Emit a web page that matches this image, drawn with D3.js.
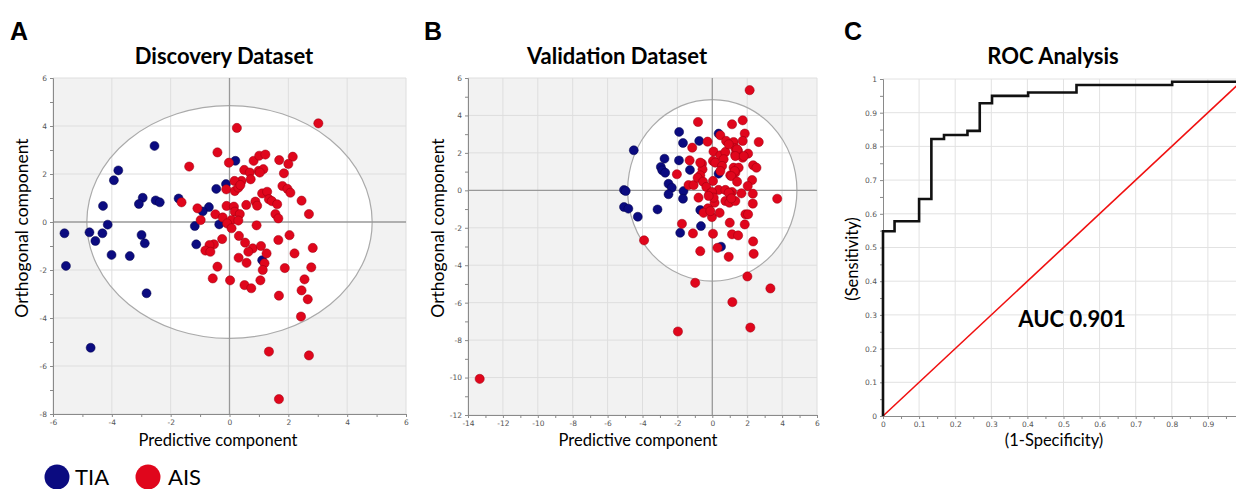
<!DOCTYPE html>
<html>
<head>
<meta charset="utf-8">
<script src="https://cdn.jsdelivr.net/npm/d3@7"></script>
<style>
  body { margin: 0; background: #fff; }
  svg { display: block; font-family: Lato, "Open Sans", sans-serif; }
</style>
</head>
<body>
<svg id="fig" width="1236" height="489"></svg>
<script>
// Discovery dataset scores [predictive, orthogonal]
const discoveryTIA = [
  [-2.55, 3.17], [-3.78, 2.15], [-3.93, 1.74], [-2.95, 1.01], [-3.08, 0.75], [-2.51, 0.90],
  [-2.37, 0.82], [-4.30, 0.67], [-1.73, 0.98], [-4.14, -0.11], [-5.61, -0.47], [-4.76, -0.43],
  [-4.32, -0.47], [-4.56, -0.79], [-2.99, -0.54], [-2.88, -0.89], [-4.01, -1.37], [-3.39, -1.42],
  [-5.56, -1.83], [-2.82, -2.97], [-4.72, -5.24], [0.20, 2.55], [-0.45, 1.38], [-0.12, 1.58],
  [-0.70, 0.62], [-0.91, 0.44], [-1.18, -0.17], [-0.35, -0.10], [-1.13, -0.93], [1.11, -1.59]
]
const discoveryAIS = [
  [0.25, 3.92], [-0.41, 2.90], [-1.37, 2.31], [-0.02, 2.47], [0.82, 2.55], [0.50, 2.17],
  [0.69, 2.06], [0.72, 1.78], [0.41, 1.71], [0.17, 1.71], [-0.11, 1.36], [0.18, 1.29],
  [0.30, 1.43], [0.37, 1.54], [-1.63, 0.82], [-1.09, 0.57], [-0.10, 0.67], [0.15, 0.64],
  [0.18, 0.43], [0.57, 0.71], [0.35, 0.33], [-0.98, 0.08], [-0.48, 0.32], [-0.23, 0.19],
  [0.07, 0.08], [0.30, 0.06], [-0.08, -0.06], [0.07, -0.26], [0.32, -0.58], [-0.25, -0.71],
  [-0.53, -0.93], [-0.68, -0.96], [-0.82, -1.19], [-0.65, -1.24], [0.53, -0.86], [0.79, -1.10],
  [0.64, -1.24], [0.31, -1.49], [0.58, -1.70], [-0.41, -1.86], [-0.57, -2.35], [0.02, -2.43],
  [0.51, -2.63], [0.74, -2.76], [0.92, -0.14], [0.99, 2.13],
  [3.02, 4.11], [1.01, 2.76], [1.22, 2.81], [1.69, 2.58], [2.15, 2.72], [2.00, 2.42],
  [1.85, 2.03], [1.15, 2.20], [1.03, 2.06], [1.80, 1.50], [1.97, 1.38], [2.07, 1.22],
  [1.11, 1.19], [1.28, 1.26], [0.88, 0.85], [0.94, 0.68], [1.34, 0.95], [1.44, 0.87],
  [1.62, 0.74], [1.56, 0.33], [1.66, 0.15], [2.45, 0.89], [2.70, 0.33], [2.04, -0.55],
  [1.66, -0.75], [1.07, -1.00], [1.26, -1.31], [2.21, -1.31], [2.83, -1.08], [1.19, -1.72],
  [1.13, -2.00], [1.88, -1.92], [2.78, -1.89], [2.55, -2.39], [1.05, -2.43], [2.45, -2.85],
  [1.68, -3.07], [2.66, -3.22], [2.43, -3.94], [1.34, -5.40], [2.70, -5.56], [1.68, -7.38]
]

// Validation dataset scores
const validationTIA = [
  [-4.50, 2.14], [-1.90, 3.12], [-1.68, 2.53], [-2.74, 1.69], [-1.91, 1.60], [-2.95, 1.25],
  [-2.87, 1.07], [-2.70, 0.94], [-1.28, 1.09], [-2.51, 0.35], [-2.32, 0.14], [-2.51, -0.21],
  [-1.65, -0.04], [-1.68, -0.45], [-5.06, 0.02], [-4.96, -0.04], [-5.06, -0.89], [-4.81, -0.98],
  [-4.27, -1.41], [-3.14, -1.02], [-1.84, -2.27], [-0.75, 2.64], [0.36, 3.03], [0.36, 0.89],
  [-0.69, -1.05], [-0.65, -1.91], [0.50, -3.01]
]
const validationAIS = [
  [-0.82, 3.65], [2.14, 5.35], [1.13, 3.53], [1.74, 3.74], [1.86, 3.03], [0.46, 2.94],
  [-0.27, 2.60], [0.79, 2.64], [1.22, 2.58], [1.74, 2.64], [2.66, 2.58], [-1.15, 2.28],
  [1.32, 2.25], [1.48, 2.10], [0.07, 2.07], [0.46, 1.87], [0.75, 2.05], [2.05, 1.96],
  [1.74, 1.74], [1.32, 1.92], [-1.30, 1.60], [-0.59, 1.42], [0.04, 1.57], [0.17, 1.48],
  [0.65, 1.66], [-0.56, 1.12], [-0.69, 0.80], [0.56, 1.30], [0.46, 1.03], [1.22, 1.21],
  [1.51, 1.21], [1.32, 0.94], [2.34, 1.34], [2.53, 1.21], [2.28, 0.55], [2.03, 0.23],
  [1.03, 0.80], [0.04, 0.50], [-2.03, 0.86], [-1.36, 0.28], [-1.07, 0.28], [-0.84, 0.67],
  [-0.53, 0.46], [-0.34, 0.18], [0.36, 0.02], [0.75, 0.02], [1.13, -0.09], [1.67, -0.16],
  [2.32, -0.18], [3.72, -0.45], [-0.17, -0.21], [-0.02, -0.09], [-0.79, -0.39], [0.75, -0.57],
  [0.98, -0.66], [1.32, -0.57], [1.03, -0.21], [0.13, -0.66], [2.32, -0.71], [-0.25, -0.96],
  [-0.50, -1.20], [-0.02, -1.43], [0.42, -1.20], [1.90, -1.28], [2.05, -1.28], [1.00, -1.73],
  [1.86, -1.82], [-1.11, -2.30], [0.04, -2.32], [1.13, -2.35], [1.48, -2.41], [2.34, -2.73],
  [0.30, -3.07], [-0.69, -3.25], [0.94, -3.55], [2.37, -3.39], [-1.74, -1.79], [-3.91, -2.67],
  [-0.98, -4.94], [2.01, -4.60], [3.33, -5.24], [1.15, -5.97], [-1.97, -7.54], [2.18, -7.33],
  [-13.33, -10.07], [0.94, 2.46], [1.42, 2.19], [1.32, 1.83], [1.80, 1.83], [1.28, 1.03],
  [1.09, 0.76], [1.42, 0.46], [0.94, -0.13], [1.09, -0.43], [0.08, -0.39], [-0.21, -0.30],
  [-0.69, 1.48], [-0.11, -1.11]
]

// ROC curve corners (false positive rate, true positive rate)
const rocFPR = [0, 0, 0.032, 0.10, 0.134, 0.169, 0.234, 0.268, 0.302, 0.402, 0.536, 0.801, 1]
const rocTPR = [0, 0.548, 0.578, 0.644, 0.822, 0.834, 0.846, 0.928, 0.950, 0.960, 0.982, 0.992, 1]

const tiaColor = '#0b0b80'
const aisColor = '#e0061c'
const hotellingRadius = 4.85

const svg = d3.select('#fig')

const tick_axis = (g, axis) => {
  g.call(axis)
  g.select('.domain').attr('stroke', '#8a8a8a')
  g.selectAll('.tick line').attr('stroke', '#8a8a8a')
  g.selectAll('.tick text').attr('fill', '#555').attr('font-size', 7.5)
    .attr('font-family', '"DejaVu Sans", sans-serif')
}

const make_scatter = (cfg) => {
  const x = d3.scaleLinear().domain(cfg.xDomain).range(cfg.xRange)
  const y = d3.scaleLinear().domain(cfg.yDomain).range(cfg.yRange)
  const g = svg.append('g')

  g.append('rect')
    .attr('x', cfg.xRange[0]).attr('y', cfg.yRange[1])
    .attr('width', cfg.xRange[1] - cfg.xRange[0])
    .attr('height', cfg.yRange[0] - cfg.yRange[1])
    .attr('fill', '#f2f2f2')

  g.append('ellipse')
    .attr('cx', x(0)).attr('cy', y(0))
    .attr('rx', x(hotellingRadius) - x(0))
    .attr('ry', y(0) - y(hotellingRadius))
    .attr('fill', '#fff')

  const xMajor = d3.range(cfg.xDomain[0], cfg.xDomain[1] + 0.1, 2)
  const yMajor = d3.range(cfg.yDomain[0], cfg.yDomain[1] + 0.1, 2)

  g.selectAll('.vgrid').data(xMajor.filter(d => d !== 0)).join('line')
    .attr('x1', d => x(d)).attr('x2', d => x(d))
    .attr('y1', cfg.yRange[0]).attr('y2', cfg.yRange[1])
    .attr('stroke', '#dedede').attr('stroke-width', 1)
  g.selectAll('.hgrid').data(yMajor.filter(d => d !== 0)).join('line')
    .attr('y1', d => y(d)).attr('y2', d => y(d))
    .attr('x1', cfg.xRange[0]).attr('x2', cfg.xRange[1])
    .attr('stroke', '#dedede').attr('stroke-width', 1)

  g.append('ellipse')
    .attr('cx', x(0)).attr('cy', y(0))
    .attr('rx', x(hotellingRadius) - x(0))
    .attr('ry', y(0) - y(hotellingRadius))
    .attr('fill', 'none').attr('stroke', '#aaa').attr('stroke-width', 1.2)

  g.append('line')
    .attr('x1', x(0)).attr('x2', x(0))
    .attr('y1', cfg.yRange[0]).attr('y2', cfg.yRange[1])
    .attr('stroke', '#999').attr('stroke-width', 1.3)
  g.append('line')
    .attr('y1', y(0)).attr('y2', y(0))
    .attr('x1', cfg.xRange[0]).attr('x2', cfg.xRange[1])
    .attr('stroke', '#999').attr('stroke-width', 1.3)

  // minor ticks every unit, labels every 2
  const xAxis = d3.axisBottom(x).tickValues(d3.range(cfg.xDomain[0], cfg.xDomain[1] + 0.1, 1))
    .tickSize(3).tickFormat(d => d % 2 === 0 ? d : '')
  const yAxis = d3.axisLeft(y).tickValues(d3.range(cfg.yDomain[0], cfg.yDomain[1] + 0.1, 1))
    .tickSize(3).tickFormat(d => d % 2 === 0 ? d : '')
  g.append('g').attr('transform', `translate(0,${cfg.yRange[0]})`).call(tick_axis, xAxis)
  g.append('g').attr('transform', `translate(${cfg.xRange[0]},0)`).call(tick_axis, yAxis)

  g.selectAll('.tia').data(cfg.tia).join('circle')
    .attr('cx', d => x(d[0])).attr('cy', d => y(d[1])).attr('r', 4.5)
    .attr('fill', tiaColor).attr('stroke', '#05054a').attr('stroke-width', 0.5)
  g.selectAll('.ais').data(cfg.ais).join('circle')
    .attr('cx', d => x(d[0])).attr('cy', d => y(d[1])).attr('r', 4.6)
    .attr('fill', aisColor).attr('stroke', '#9a0010').attr('stroke-width', 0.5)

  g.append('text').attr('x', cfg.titleX).attr('y', 64)
    .attr('text-anchor', 'middle').attr('font-weight', 'bold').attr('font-size', 22)
    .text(cfg.title)
  g.append('text').attr('x', cfg.letterX).attr('y', 40)
    .attr('font-weight', 'bold').attr('font-size', 25).attr('font-family', '"Liberation Sans", Arial, sans-serif')
    .text(cfg.letter)
  g.append('text').attr('x', cfg.xLabelX).attr('y', 446)
    .attr('text-anchor', 'middle').attr('font-size', 16.5)
    .text('Predictive component')
  g.append('text')
    .attr('transform', `translate(${cfg.yLabelX},${cfg.yLabelY}) rotate(-90)`)
    .attr('text-anchor', 'middle').attr('font-size', 17.5)
    .text('Orthogonal component')
}

make_scatter({
  xDomain: [-6, 6], yDomain: [-8, 6], xRange: [53, 406], yRange: [414, 78],
  tia: discoveryTIA, ais: discoveryAIS,
  title: 'Discovery Dataset', titleX: 224, letter: 'A', letterX: 10,
  xLabelX: 218, yLabelX: 28, yLabelY: 228
})
make_scatter({
  xDomain: [-14, 6], yDomain: [-12, 6], xRange: [468, 817], yRange: [415, 78],
  tia: validationTIA, ais: validationAIS,
  title: 'Validation Dataset', titleX: 617, letter: 'B', letterX: 424,
  xLabelX: 638, yLabelX: 444, yLabelY: 228
})

// ROC panel
const make_roc = () => {
  const x = d3.scaleLinear().domain([0, 1]).range([883, 1244])
  const y = d3.scaleLinear().domain([0, 1]).range([416, 79])
  const g = svg.append('g')
  const grid = d3.range(0.1, 1.01, 0.1)

  g.selectAll('.vgrid').data(grid).join('line')
    .attr('x1', d => x(d)).attr('x2', d => x(d)).attr('y1', y(0)).attr('y2', y(1))
    .attr('stroke', '#e2e2e2')
  g.selectAll('.hgrid').data(grid).join('line')
    .attr('y1', d => y(d)).attr('y2', d => y(d)).attr('x1', x(0)).attr('x2', x(1))
    .attr('stroke', '#e2e2e2')

  const ticks = d3.range(0, 1.001, 0.05).map(d => Math.round(d * 100) / 100)
  const fmt = d => (Math.round(d * 100) % 10 === 0) ? d3.format('~g')(d) : ''
  g.append('g').attr('transform', `translate(0,${y(0)})`)
    .call(tick_axis, d3.axisBottom(x).tickValues(ticks.filter(d => d < 1)).tickSize(3).tickFormat(fmt))
  g.append('g').attr('transform', `translate(${x(0)},0)`)
    .call(tick_axis, d3.axisLeft(y).tickValues(ticks).tickSize(3).tickFormat(fmt))

  g.append('line')
    .attr('x1', x(0)).attr('y1', y(0)).attr('x2', x(1)).attr('y2', y(1))
    .attr('stroke', '#f01010').attr('stroke-width', 1.6)

  const roc = rocFPR.map((d, i) => [d, rocTPR[i]])
  const line = d3.line().x(d => x(d[0])).y(d => y(d[1])).curve(d3.curveStepAfter)
  g.append('path').datum(roc)
    .attr('fill', 'none').attr('stroke', '#111').attr('stroke-width', 2.6)
    .attr('d', line)

  g.append('text').attr('x', 1053).attr('y', 64)
    .attr('text-anchor', 'middle').attr('font-weight', 'bold').attr('font-size', 22)
    .text('ROC Analysis')
  g.append('text').attr('x', 844).attr('y', 40)
    .attr('font-weight', 'bold').attr('font-size', 25).attr('font-family', '"Liberation Sans", Arial, sans-serif')
    .text('C')
  g.append('text').attr('x', 1072).attr('y', 327)
    .attr('text-anchor', 'middle').attr('font-weight', 'bold').attr('font-size', 22)
    .text('AUC 0.901')
  g.append('text').attr('x', 1054).attr('y', 446)
    .attr('text-anchor', 'middle').attr('font-size', 16.5)
    .text('(1-Specificity)')
  g.append('text')
    .attr('transform', 'translate(858,259) rotate(-90)')
    .attr('text-anchor', 'middle').attr('font-size', 16.5)
    .text('(Sensitivity)')
}
make_roc()

// legend
const legend = [['TIA', tiaColor, 57, 75], ['AIS', aisColor, 148, 168]]
legend.forEach(([name, color, cx, tx]) => {
  svg.append('circle').attr('cx', cx).attr('cy', 477).attr('r', 12.5).attr('fill', color)
  svg.append('text').attr('x', tx).attr('y', 485).attr('font-size', 22).text(name)
})
</script>
</body>
</html>
